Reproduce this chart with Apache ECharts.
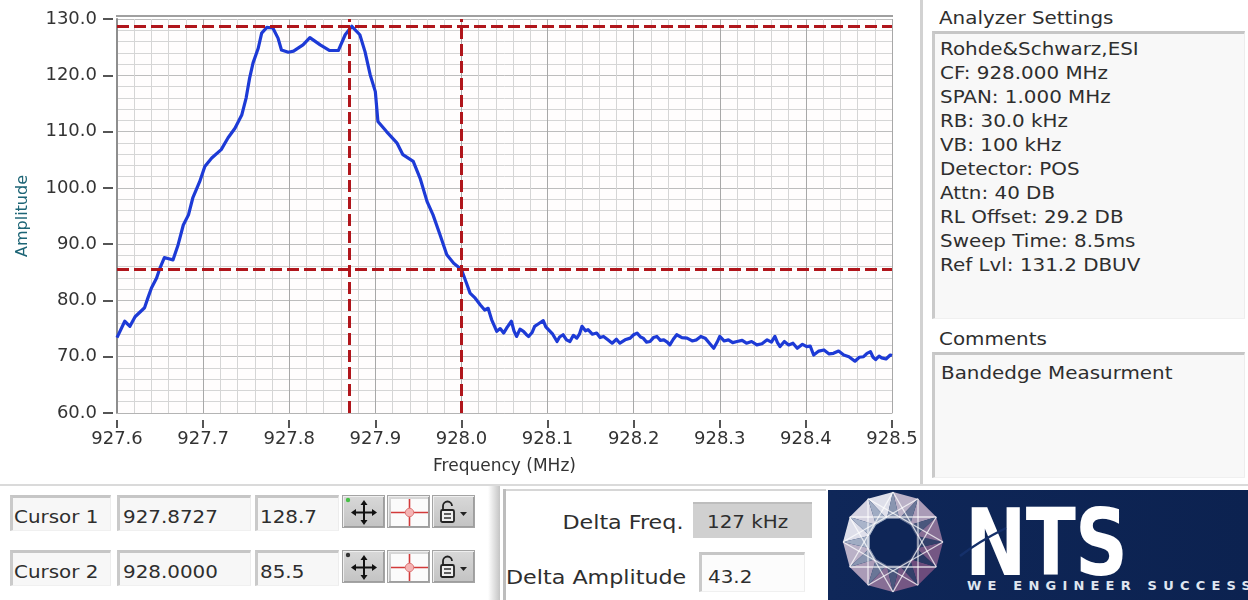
<!DOCTYPE html>
<html>
<head>
<meta charset="utf-8">
<title>Bandedge Measurment</title>
<script src="https://cdn.jsdelivr.net/npm/echarts@6/dist/echarts.min.js"></script>
<style>
  html, body { margin:0; padding:0; background:#ffffff; }
  body { position:relative; width:1248px; height:600px; overflow:hidden;
         font-family:"DejaVu Sans", sans-serif; color:#2e2e2e; }
  #chart { position:absolute; left:0; top:0; width:925px; height:486px; }
  .txt { position:absolute; white-space:nowrap; font-size:17px; line-height:24px;
         transform:scaleX(1.17); transform-origin:0 50%; }
  .txt.r { transform-origin:100% 50%; }
  .txt.big { font-size:19px; }
  .well { position:absolute; box-sizing:border-box; background:#f7f7f7;
          border-top:3px solid #c6c6c6; border-left:3px solid #cacaca;
          border-right:1px solid #ededed; border-bottom:1px solid #f0f0f0; }
  .btn { position:absolute; box-sizing:border-box; width:43px; height:33px;
         background:linear-gradient(#d8d8d8,#c3c3c3); border:1px solid #a4a4a4;
         box-shadow: inset 1px 1px 0 #efefef, inset -1px -1px 0 #9e9e9e; }
  .btn svg { position:absolute; left:0; top:0; }
  .line { position:absolute; }
  #logo { position:absolute; left:828px; top:490px; width:420px; height:110px;
          background:linear-gradient(90deg,#0f2759,#0c2250); overflow:hidden; }
  #logo svg { position:absolute; left:0; top:0; }
  .nts { position:absolute; left:137px; top:3px; font-family:"DejaVu Sans", sans-serif;
         font-weight:bold; font-size:93px; line-height:100px; color:#ffffff;
         transform:scaleX(0.79); transform-origin:0 50%; letter-spacing:-1px; }
  .tag { position:absolute; left:139px; top:88px; font-family:"DejaVu Sans", sans-serif;
         font-weight:bold; font-size:13px; line-height:16px; color:#dfe5ef;
         letter-spacing:6.2px; white-space:nowrap; }
</style>
</head>
<body>
<div id="chart"></div>

<!-- separators -->
<div class="line" style="left:920px;top:0;width:3px;height:486px;background:#d2d2d2"></div>
<div class="line" style="left:0;top:484px;width:1248px;height:2px;background:#dadada"></div>
<div class="line" style="left:488px;top:486px;width:12px;height:114px;background:linear-gradient(90deg,#ffffff,#c4c4c4)"></div>

<!-- analyzer settings -->
<div class="txt" style="left:939px;top:6px">Analyzer Settings</div>
<div class="well" style="left:932px;top:31px;width:313px;height:288px;background:#f8f8f8"></div>
<div id="settings"></div>

<!-- comments -->
<div class="txt" style="left:939px;top:327px">Comments</div>
<div class="well" style="left:932px;top:352px;width:313px;height:126px;background:#f8f8f8"></div>
<div class="txt" id="comment" style="left:941px;top:361px"></div>

<!-- cursor readouts -->
<div id="cursors"></div>

<!-- delta readouts -->
<div class="line" style="left:503px;top:489px;width:323px;height:2px;background:#d6d6d6"></div>
<div class="line" style="left:503px;top:489px;width:3px;height:111px;background:#bdbdbd"></div>
<div class="txt big r" style="right:565px;top:510px">Delta Freq.</div>
<div class="line" style="left:693px;top:502px;width:119px;height:36px;background:#d0d0d0;border-top:2px solid #bdbdbd;box-sizing:border-box"></div>
<div class="txt" id="dfreq" style="left:707px;top:510px"></div>
<div class="txt big" style="left:506px;top:565px">Delta Amplitude</div>
<div class="well" style="left:699px;top:552px;width:106px;height:40px;background:#fcfcfc"></div>
<div class="txt" id="damp" style="left:708px;top:565px"></div>

<!-- company mark -->
<div id="logo">
  <svg id="globe" width="420" height="110"></svg>
  <div class="nts">NTS</div>
  <svg width="420" height="110"><path d="M132 66 Q150 52 178 38" stroke="#15306a" stroke-width="2.5" fill="none"/></svg>
  <div class="tag">WE ENGINEER SUCCESS</div>
</div>

<script>
// Spectrum trace: frequency (MHz) and amplitude (dBuV)
const freqMHz = [
  927.600, 927.609, 927.615, 927.621, 927.632, 927.636, 927.640, 927.646, 927.650, 927.655,
  927.660, 927.665, 927.671, 927.677, 927.683, 927.688, 927.696, 927.702, 927.710, 927.721,
  927.729, 927.737, 927.745, 927.750, 927.754, 927.758, 927.764, 927.768, 927.774, 927.781,
  927.787, 927.791, 927.799, 927.805, 927.816, 927.824, 927.836, 927.847, 927.857, 927.865,
  927.8727, 927.882, 927.888, 927.894, 927.900, 927.903, 927.913, 927.925, 927.932, 927.944,
  927.952, 927.960, 927.967, 927.975, 927.983, 927.991, 928.000, 928.006, 928.010, 928.016,
  928.022, 928.027, 928.031, 928.035,
  928.041, 928.045, 928.049, 928.053, 928.058, 928.061, 928.064, 928.068, 928.072, 928.075,
  928.078, 928.082, 928.085, 928.090, 928.095, 928.098, 928.101, 928.106, 928.111, 928.114,
  928.118, 928.122, 928.126, 928.130, 928.134, 928.137, 928.140, 928.144, 928.147, 928.152,
  928.157, 928.161, 928.165, 928.170, 928.175, 928.180, 928.184, 928.190, 928.196, 928.200,
  928.204, 928.208, 928.211, 928.215, 928.219, 928.223, 928.227, 928.231, 928.235, 928.239,
  928.242, 928.246, 928.250, 928.256, 928.262, 928.268, 928.273, 928.278, 928.283, 928.288,
  928.293, 928.297, 928.300, 928.305, 928.310, 928.315, 928.320, 928.326, 928.331, 928.337,
  928.343, 928.349, 928.355, 928.360, 928.364, 928.367, 928.370, 928.375, 928.380, 928.385,
  928.390, 928.396, 928.401, 928.405, 928.409, 928.415, 928.421, 928.427, 928.432, 928.438,
  928.444, 928.450, 928.457, 928.462, 928.467, 928.471, 928.475, 928.478, 928.481, 928.485,
  928.488, 928.493, 928.498, 928.500
];
const amplitude = [
  73.4, 76.3, 75.4, 77.1, 78.7, 80.5, 82.2, 84.0, 85.8, 87.6,
  87.4, 87.2, 89.9, 93.4, 95.2, 98.2, 101.1, 103.8, 105.3, 106.8,
  108.9, 110.6, 113.0, 116.0, 119.5, 122.2, 124.8, 127.5, 128.5, 128.4,
  126.6, 124.5, 124.1, 124.3, 125.4, 126.7, 125.4, 124.4, 124.4, 127.2,
  128.7, 127.2, 124.2, 120.1, 117.1, 111.8, 110.0, 108.0, 105.9, 104.7,
  101.7, 97.6, 95.2, 91.7, 88.1, 86.6, 85.5, 83.0, 81.3, 80.4,
  79.2, 78.3, 78.6, 76.6,
  74.5, 75.0, 74.2, 75.2, 76.3, 74.6, 73.6, 74.9, 74.5, 74.0,
  73.6, 74.3, 75.4, 75.9, 76.4, 75.3, 74.8, 74.0, 72.7, 73.5,
  73.9, 73.0, 72.7, 73.8, 73.3, 74.0, 75.4, 74.6, 74.8, 74.0,
  74.2, 73.4, 73.6, 73.0, 72.4, 73.1, 72.4, 73.0, 73.3, 73.9,
  74.2, 73.5, 73.3, 72.6, 72.7, 73.4, 73.6, 72.9, 73.0, 72.6,
  72.1, 73.1, 73.9, 73.4, 73.3, 72.8, 73.0, 73.6, 73.3, 72.4,
  71.5, 72.6, 73.6, 72.8, 73.0, 72.5, 72.7, 72.9, 72.4, 72.7,
  72.1, 72.3, 73.0, 72.6, 73.6, 72.5, 71.8, 72.7, 72.1, 72.4,
  71.5, 72.2, 71.8, 71.9, 70.3, 71.0, 71.2, 70.5, 70.6, 71.0,
  70.3, 70.0, 69.2, 69.9, 70.0, 70.6, 70.9, 69.9, 69.5, 70.1,
  69.8, 69.6, 70.3, 70.2
];

// Axis ticks
const freqTicks = [927.6, 927.7, 927.8, 927.9, 928.0, 928.1, 928.2, 928.3, 928.4, 928.5];
const ampTicks = [60, 70, 80, 90, 100, 110, 120, 130];

// Cursor positions (frequency MHz, amplitude)
const cursorNames = ['Cursor 1', 'Cursor 2'];
const cursorFreq = [927.8727, 928.0000];
const cursorAmp = [128.7, 85.5];

// Instrument settings and comments
const settingsLines = [
  'Rohde&Schwarz,ESI', 'CF: 928.000 MHz', 'SPAN: 1.000 MHz', 'RB: 30.0 kHz', 'VB: 100 kHz',
  'Detector: POS', 'Attn: 40 DB', 'RL Offset: 29.2 DB', 'Sweep Time: 8.5ms', 'Ref Lvl: 131.2 DBUV'
];
const commentText = 'Bandedge Measurment';

// ---------- chart ----------
const chart = echarts.init(document.getElementById('chart'));
const fMin = freqTicks[0], fMax = freqTicks[freqTicks.length - 1], fStep = 0.1;
const aMin = ampTicks[0], aMax = ampTicks[ampTicks.length - 1], aStep = 10;
const labelFont = { fontFamily: 'DejaVu Sans', fontSize: 18, color: '#333333' };

const trace = freqMHz.map((f, i) => [f, amplitude[i]]);

chart.setOption({
  animation: false,
  grid: { left: 117, top: 19, width: 775, height: 394, show: true,
          backgroundColor: '#fffdfd', borderWidth: 0 },
  graphic: [{
    type: 'line', shape: { x1: 116, y1: 16, x2: 893, y2: 16 },
    style: { stroke: '#a0a0a0', lineWidth: 2 }, silent: true
  }],
  xAxis: [{
    type: 'value', min: fMin, max: fMax, interval: fStep, position: 'bottom',
    axisLine: { show: true, onZero: false, lineStyle: { color: '#b4b4b4', width: 1 } },
    axisTick: { show: false }, axisLabel: { show: false },
    splitLine: { show: true, lineStyle: { color: '#a8a8a8', width: 1 } },
    minorTick: { show: false, splitNumber: 5 },
    minorSplitLine: { show: true, lineStyle: { color: '#d5d5d5', width: 1 } },
    name: 'Frequency (MHz)', nameLocation: 'middle', nameGap: 45,
    nameTextStyle: { fontFamily: 'DejaVu Sans', fontSize: 17, color: '#333333' }
  }, {
    type: 'value', min: fMin, max: fMax, interval: fStep, position: 'bottom', offset: 7,
    axisLine: { show: false },
    axisTick: { show: true, length: 8, lineStyle: { color: '#555555', width: 2 } },
    axisLabel: Object.assign({ margin: 10, formatter: v => v.toFixed(1) }, labelFont),
    splitLine: { show: false }
  }],
  yAxis: [{
    type: 'value', min: aMin, max: aMax, interval: aStep, position: 'left',
    axisLine: { show: true, onZero: false, lineStyle: { color: '#8e8e8e', width: 2 } },
    axisTick: { show: false }, axisLabel: { show: false },
    splitLine: { show: true, lineStyle: { color: '#bdbdbd', width: 1 } },
    minorTick: { show: false, splitNumber: 5 },
    minorSplitLine: { show: true, lineStyle: { color: '#d5d5d5', width: 1 } },
    name: 'Amplitude', nameLocation: 'middle', nameGap: 86,
    nameTextStyle: { fontFamily: 'DejaVu Sans', fontSize: 16, color: '#1d6576' }
  }, {
    type: 'value', min: aMin, max: aMax, interval: aStep, position: 'left', offset: 4,
    axisLine: { show: false },
    axisTick: { show: true, length: 10, lineStyle: { color: '#555555', width: 2 } },
    axisLabel: Object.assign({ margin: 16, formatter: v => v.toFixed(1) }, labelFont),
    splitLine: { show: false }
  }],
  series: [{
    type: 'line', xAxisIndex: 0, yAxisIndex: 0, data: trace,
    showSymbol: false, symbol: 'none', smooth: false,
    lineStyle: { color: '#1d3ad6', width: 3.2, join: 'round' },
    markLine: {
      silent: true, symbol: ['none', 'none'], animation: false,
      label: { show: false },
      lineStyle: { color: '#b0151b', width: 3, type: [12, 5] },
      emphasis: { disabled: true },
      data: [
        { yAxis: cursorAmp[0] }, { yAxis: cursorAmp[1] },
        { xAxis: cursorFreq[0] }, { xAxis: cursorFreq[1] }
      ]
    }
  }]
});

// ---------- settings and comment text ----------
const settingsEl = document.getElementById('settings');
settingsLines.forEach((s, i) => {
  const d = document.createElement('div');
  d.className = 'txt';
  d.style.left = '940px';
  d.style.top = (37 + i * 24) + 'px';
  d.textContent = s;
  settingsEl.appendChild(d);
});
document.getElementById('comment').textContent = commentText;

// ---------- cursor readout rows ----------
const moveIcon = (dot) => `
<svg width="43" height="33" viewBox="0 0 43 33">
  ${dot ? `<circle cx="5" cy="4" r="2.2" fill="${dot}"/>` : ''}
  <g stroke="#111" stroke-width="2" fill="none">
    <line x1="21" y1="7" x2="21" y2="26"/><line x1="11" y1="16.5" x2="31" y2="16.5"/>
  </g>
  <g fill="#111">
    <polygon points="21,4 17.5,9 24.5,9"/><polygon points="21,29 17.5,24 24.5,24"/>
    <polygon points="8,16.5 13,13 13,20"/><polygon points="34,16.5 29,13 29,20"/>
  </g>
</svg>`;
const crossIcon = `
<svg width="43" height="33" viewBox="0 0 43 33">
  <rect x="3" y="3" width="37" height="27" fill="#fbfbfb"/>
  <g stroke="#d23a3a" stroke-width="1.6">
    <line x1="3" y1="16.5" x2="40" y2="16.5"/><line x1="21.5" y1="3" x2="21.5" y2="30"/>
  </g>
  <circle cx="21.5" cy="16.5" r="4.2" fill="#f4b4b4" stroke="#e07a7a" stroke-width="1"/>
</svg>`;
const lockIcon = `
<svg width="43" height="33" viewBox="0 0 43 33">
  <path d="M10 14 V10 a4.5 4.5 0 0 1 9 0" stroke="#222" stroke-width="1.8" fill="none"/>
  <rect x="8" y="14" width="13" height="12" rx="1.5" fill="#eeeeee" stroke="#222" stroke-width="1.8"/>
  <line x1="11" y1="18" x2="18" y2="18" stroke="#222" stroke-width="1.4"/>
  <line x1="11" y1="22" x2="18" y2="22" stroke="#222" stroke-width="1.4"/>
  <polygon points="27,16 34,16 30.5,20" fill="#222"/>
</svg>`;

const cursorsEl = document.getElementById('cursors');
const rowTops = [495, 550];
cursorNames.forEach((name, i) => {
  const top = rowTops[i];
  const html = `
    <div class="well" style="left:10px;top:${top}px;width:101px;height:36px"></div>
    <div class="well" style="left:117px;top:${top}px;width:134px;height:36px"></div>
    <div class="well" style="left:255px;top:${top}px;width:84px;height:36px"></div>
    <div class="txt" style="left:14px;top:${top + 10}px">${name}</div>
    <div class="txt" style="left:123px;top:${top + 10}px">${cursorFreq[i].toFixed(4)}</div>
    <div class="txt" style="left:260px;top:${top + 10}px">${cursorAmp[i].toFixed(1)}</div>
    <div class="btn" style="left:342px;top:${top}px">${moveIcon(i === 0 ? '#46c046' : '#333')}</div>
    <div class="btn" style="left:387px;top:${top}px">${crossIcon}</div>
    <div class="btn" style="left:432px;top:${top}px">${lockIcon}</div>`;
  cursorsEl.insertAdjacentHTML('beforeend', html);
});

// ---------- delta readouts ----------
const deltaKHz = Math.round((cursorFreq[1] - cursorFreq[0]) * 1000);
const deltaAmp = (cursorAmp[0] - cursorAmp[1]).toFixed(1);
document.getElementById('dfreq').textContent = deltaKHz + ' kHz';
document.getElementById('damp').textContent = deltaAmp;

// ---------- faceted globe emblem ----------
(function drawGlobe() {
  const svg = document.getElementById('globe');
  const cx = 65, cy = 52, R = 50, r = 24, n = 12;
  const mix = (a, b, t) => {
    const pa = a.match(/\w\w/g).map(h => parseInt(h, 16));
    const pb = b.match(/\w\w/g).map(h => parseInt(h, 16));
    return 'rgb(' + pa.map((v, k) => Math.round(v + (pb[k] - v) * t)).join(',') + ')';
  };
  const pt = (rad, ang) => [cx + rad * Math.cos(ang), cy + rad * Math.sin(ang)];
  let s = '';
  for (let i = 0; i < n; i++) {
    const a0 = i / n * 2 * Math.PI, a1 = (i + 1) / n * 2 * Math.PI, am = (a0 + a1) / 2;
    const light = 0.5 + 0.5 * Math.cos(am - 1.25 * Math.PI);
    const o0 = pt(R, a0), o1 = pt(R, a1), im = pt(r, am);
    const iPrev = pt(r, am - 2 * Math.PI / n);
    s += `<polygon points="${o0.join(',')} ${o1.join(',')} ${im.join(',')}" fill="${mix('6d4c7c', 'e6eaf2', light * (i % 2 ? 0.85 : 1))}"/>`;
    s += `<polygon points="${o0.join(',')} ${im.join(',')} ${iPrev.join(',')}" fill="${mix('2a3863', 'a9b4ca', light)}"/>`;
  }
  for (let i = 0; i < n; i++) {
    const p = pt(R, i / n * 2 * Math.PI), q = pt(R, (i + 4) / n * 2 * Math.PI);
    s += `<line x1="${p[0]}" y1="${p[1]}" x2="${q[0]}" y2="${q[1]}" stroke="rgba(255,255,255,0.75)" stroke-width="1.3"/>`;
  }
  s += `<circle cx="${cx}" cy="${cy}" r="${r - 1}" fill="#0e2556"/>`;
  svg.innerHTML = s;
})();
</script>
</body>
</html>
